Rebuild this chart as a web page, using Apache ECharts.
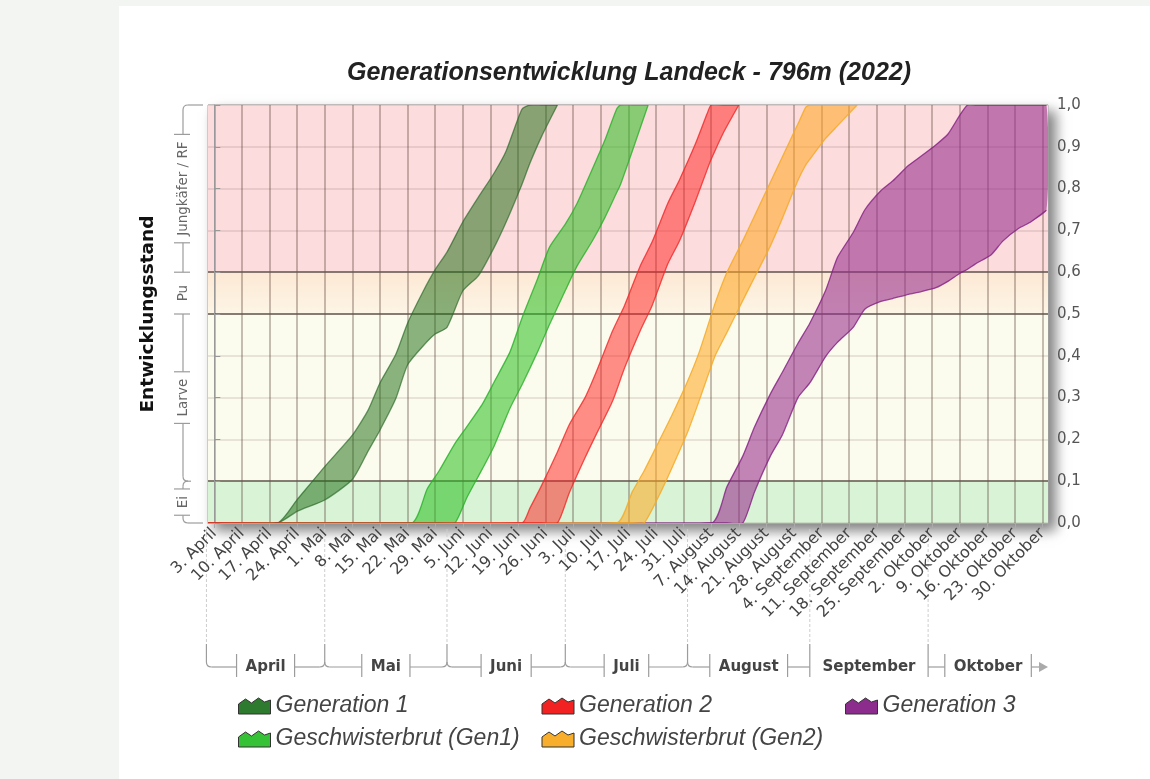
<!DOCTYPE html>
<html>
<head>
<meta charset="utf-8">
<title>Generationsentwicklung Landeck</title>
<script src="https://cdn.jsdelivr.net/npm/echarts@6/dist/echarts.min.js"></script>
<style>
html, body { margin: 0; padding: 0; background: #f3f5f3; }
#chart { position: absolute; left: 119px; top: 6px; width: 1031px; height: 773px; background: #fff; }
</style>
</head>
<body>
<div id="chart"></div>
<script>
// x-Achse: Tage ab 3. April 2022
const weekLabels = [
    '3. April', '10. April', '17. April', '24. April',
    '1. Mai', '8. Mai', '15. Mai', '22. Mai', '29. Mai',
    '5. Juni', '12. Juni', '19. Juni', '26. Juni',
    '3. Juli', '10. Juli', '17. Juli', '24. Juli', '31. Juli',
    '7. August', '14. August', '21. August', '28. August',
    '4. September', '11. September', '18. September', '25. September',
    '2. Oktober', '9. Oktober', '16. Oktober', '23. Oktober', '30. Oktober'
]
const weekDays = weekLabels.map((_, i) => i * 7)
const months = ['April', 'Mai', 'Juni', 'Juli', 'August', 'September', 'Oktober']
const monthStartDays = [-2, 28, 59, 89, 120, 151, 181, 212]

// y-Achse: Entwicklungsstadien
const stageNames = ['Ei', 'Larve', 'Pu', 'Jungkäfer / RF']
const stageBounds = [0, 0.1, 0.5, 0.6, 1.0]

// Generation 1
const gen1Days = [-2, 16, 21, 28, 35, 39, 42, 46, 49, 53, 56, 59, 63, 67, 71, 74, 78, 80, 83, 87]
const gen1Low = [0, 0, 0.028, 0.055, 0.104, 0.172, 0.222, 0.297, 0.378, 0.424, 0.452, 0.468, 0.555, 0.592, 0.66, 0.72, 0.81, 0.86, 0.925, 1]
const gen1High = [0, 0, 0.056, 0.135, 0.21, 0.27, 0.335, 0.403, 0.478, 0.555, 0.606, 0.648, 0.72, 0.78, 0.838, 0.89, 0.99, 1, 1, 1]

// Geschwisterbrut (Gen1)
const gesch1Days = [-2, 50, 54, 57, 61, 64, 68, 71, 75, 78, 82, 85, 89, 92, 96, 99, 102, 103, 106, 110]
const gesch1Low = [0, 0, 0, 0, 0, 0.06, 0.13, 0.185, 0.275, 0.33, 0.41, 0.475, 0.556, 0.615, 0.677, 0.73, 0.79, 0.81, 0.89, 1]
const gesch1High = [0, 0, 0.082, 0.125, 0.19, 0.23, 0.285, 0.338, 0.41, 0.49, 0.585, 0.66, 0.715, 0.765, 0.85, 0.915, 0.99, 1, 1, 1]

// Generation 2
const gen2Days = [-2, 78, 80, 83, 87, 90, 94, 97, 101, 104, 108, 111, 115, 118, 122, 125, 126, 129, 133]
const gen2Low = [0, 0, 0, 0, 0, 0.072, 0.156, 0.215, 0.292, 0.37, 0.46, 0.52, 0.62, 0.676, 0.77, 0.846, 0.87, 0.932, 1]
const gen2High = [0, 0, 0.035, 0.09, 0.17, 0.235, 0.3, 0.365, 0.46, 0.52, 0.615, 0.672, 0.765, 0.822, 0.907, 0.98, 1, 1, 1]

// Geschwisterbrut (Gen2)
const gesch2Days = [-2, 102, 106, 109, 113, 116, 120, 123, 127, 130, 134, 137, 141, 144, 148, 150, 151, 155, 158, 163]
const gesch2Low = [0, 0, 0, 0, 0.07, 0.131, 0.217, 0.294, 0.4, 0.456, 0.532, 0.588, 0.663, 0.728, 0.82, 0.857, 0.87, 0.92, 0.95, 1]
const gesch2High = [0, 0, 0.075, 0.125, 0.2, 0.257, 0.339, 0.41, 0.526, 0.6, 0.675, 0.735, 0.815, 0.875, 0.955, 0.995, 1, 1, 1, 1]

// Generation 3
const gen3Days = [-2, 126, 130, 134, 137, 141, 144, 148, 151, 155, 158, 162, 165, 169, 172, 176, 179, 183, 186, 189, 191, 193, 197, 200, 204, 207, 211]
const gen3Low = [0, 0, 0, 0, 0.075, 0.16, 0.21, 0.3, 0.335, 0.398, 0.432, 0.468, 0.512, 0.53, 0.537, 0.547, 0.553, 0.563, 0.578, 0.597, 0.607, 0.62, 0.642, 0.675, 0.705, 0.72, 0.748]
const gen3High = [0, 0, 0.087, 0.16, 0.23, 0.309, 0.36, 0.43, 0.478, 0.556, 0.635, 0.695, 0.75, 0.795, 0.818, 0.855, 0.876, 0.905, 0.93, 0.975, 1, 1, 1, 1, 1, 1, 1]

const stageColors = [
    '#d8f3d6',
    '#fcfcee',
    { type: 'linear', x: 0, y: 0, x2: 0, y2: 1, colorStops: [{ offset: 0, color: '#fde8d4' }, { offset: 1, color: '#fdf5e6' }] },
    '#fcdcdd'
]

const chart = echarts.init(document.getElementById('chart'))

// Band zwischen frühem und spätem Verlauf als Fläche
function band(name, days, low, high, fill, edge, color) {
    return {
        name: name, type: 'custom', silent: true, z: 3, clip: true,
        itemStyle: { color: color },
        data: [0],
        renderItem: (params, api) => {
            const up = days.map((d, i) => api.coord([d, high[i]]))
            const lo = days.map((d, i) => api.coord([d, low[i]]))
            return {
                type: 'group',
                children: [
                    { type: 'polygon', shape: { points: up.concat(lo.slice().reverse()), smooth: 0.2 }, style: { fill: fill, stroke: null } },
                    { type: 'polyline', shape: { points: up, smooth: 0.2 }, style: { stroke: edge, lineWidth: 1.3, fill: null } },
                    { type: 'polyline', shape: { points: lo, smooth: 0.2 }, style: { stroke: edge, lineWidth: 1.3, fill: null } }
                ]
            }
        }
    }
}

const legendNames = ['Generation 1', 'Generation 2', 'Generation 3', 'Geschwisterbrut (Gen1)', 'Geschwisterbrut (Gen2)']

let option = {
    animation: false,
    title: {
        text: 'Generationsentwicklung Landeck - 796m (2022)',
        left: 505, top: 50, textAlign: 'center',
        textStyle: { fontFamily: 'Liberation Sans', fontSize: 25, fontWeight: 'bold', fontStyle: 'italic', color: '#222' }
    },
    legend: {
        data: legendNames,
        left: 114, top: 683, width: 905,
        itemWidth: 32, itemHeight: 17, itemGap: 9,
        icon: 'path://M0,17 L0,7 L7,2 L13,6 L20,1 L26,5 L32,3 L32,17 Z',
        itemStyle: { borderColor: '#333', borderWidth: 1 },
        textStyle: { fontFamily: 'Liberation Sans', fontSize: 23, fontStyle: 'italic', color: '#444', width: 257, lineHeight: 24 },
        selectedMode: false
    },
    grid: {
        left: 89, top: 99, width: 840, height: 418,
        show: true, backgroundColor: '#fff', borderColor: '#a8a8a8', borderWidth: 1,
        shadowBlur: 12, shadowColor: 'rgba(0,0,0,0.5)', shadowOffsetX: 7, shadowOffsetY: 7,
        containLabel: false, outerBoundsMode: 'none'
    },
    xAxis: {
        type: 'value', min: -1.6, max: 211.4, z: 2,
        axisLine: { show: true, onZero: false, lineStyle: { color: '#a8a8a8' } },
        axisTick: { show: true, customValues: weekDays, length: 5, lineStyle: { color: '#aaa' } },
        axisLabel: {
            customValues: weekDays,
            formatter: v => weekLabels[Math.round(v / 7)],
            rotate: 45, margin: 8,
            fontFamily: 'DejaVu Sans', fontSize: 16, color: '#444'
        },
        splitLine: { show: true, lineStyle: { color: 'rgba(90,65,55,0.45)', width: 1.5 } }
    },
    yAxis: [{
        type: 'value', position: 'right', min: 0, max: 1, interval: 0.1, z: 2,
        axisLine: { show: true, lineStyle: { color: '#999' } },
        axisTick: { show: true, length: 6, lineStyle: { color: '#999' } },
        axisLabel: {
            formatter: v => v.toFixed(1).replace('.', ','),
            fontFamily: 'DejaVu Sans', fontSize: 15, color: '#555', margin: 9
        },
        splitLine: { show: true, lineStyle: { color: 'rgba(120,90,90,0.2)', width: 1.5 } }
    }, {
        type: 'value', position: 'left', min: 0, max: 1,
        axisLine: { show: false }, axisTick: { show: false }, axisLabel: { show: false }, splitLine: { show: false },
        name: 'Entwicklungsstand', nameLocation: 'middle', nameGap: 50, nameRotate: 90,
        nameTextStyle: { fontFamily: 'DejaVu Sans', fontWeight: 'bold', fontSize: 18.5, color: '#111' }
    }],
    series: [
        {
            name: 'Hintergrund', type: 'line', data: [], silent: true, z: 1,
            markArea: {
                silent: true, z: 1,
                data: stageNames.map((n, i) => [{ yAxis: stageBounds[i], itemStyle: { color: stageColors[i] } }, { yAxis: stageBounds[i + 1] }])
            },
            markLine: {
                silent: true, symbol: 'none', z: 2, label: { show: false },
                lineStyle: { color: 'rgba(100,90,80,0.75)', width: 2, type: 'solid' },
                data: stageBounds.slice(1, -1).map(v => ({ yAxis: v }))
            }
        },
        band('Generation 3', gen3Days, gen3Low, gen3High, 'rgba(150,45,140,0.58)', 'rgba(130,30,130,0.8)', '#8c2c8c'),
        band('Geschwisterbrut (Gen2)', gesch2Days, gesch2Low, gesch2High, 'rgba(255,165,30,0.55)', 'rgba(245,170,40,0.85)', '#f8ae2a'),
        band('Geschwisterbrut (Gen1)', gesch1Days, gesch1Low, gesch1High, 'rgba(40,190,30,0.55)', 'rgba(40,175,40,0.8)', '#36c236'),
        band('Generation 1', gen1Days, gen1Low, gen1High, 'rgba(30,110,20,0.52)', 'rgba(35,100,35,0.65)', '#2e7a2e'),
        band('Generation 2', gen2Days, gen2Low, gen2High, 'rgba(255,30,30,0.5)', 'rgba(240,40,40,0.8)', '#f22222')
    ]
}

chart.setOption(option)

// Klammern für Monate (unten) und Stadien (links)
function drawDecor() {
    const px = d => chart.convertToPixel({ xAxisIndex: 0 }, d)
    const py = v => chart.convertToPixel({ yAxisIndex: 0 }, v)
    const ctx = document.createElement('canvas').getContext('2d')
    const stroke = { stroke: '#9c9c9c', lineWidth: 1.2, fill: null }
    const els = []
    const line = (x1, y1, x2, y2, extra) => els.push({ type: 'line', silent: true, shape: { x1, y1, x2, y2 }, style: Object.assign({}, stroke, extra) })
    const curve = (x1, y1, cx, cy, x2, y2) => els.push({ type: 'bezierCurve', silent: true, shape: { x1, y1, cpx1: cx, cpy1: cy, x2, y2 }, style: stroke })
    const r = 5

    const plotBottom = py(0), plotLeft = px(-1.6), plotRight = px(211.4)
    const hy = plotBottom + 144, top = plotBottom + 121
    const monthFont = 'bold 15px "DejaVu Sans"'
    ctx.font = monthFont
    const segs = months.map((m, i) => {
        const x0 = px(monthStartDays[i]), x1 = Math.min(px(monthStartDays[i + 1]), plotRight)
        const cx = (x0 + x1) / 2, w = ctx.measureText(m).width
        let lt = cx - w / 2 - 9, rt = cx + w / 2 + 9
        const sl = i > 0 && lt - x0 < 6
        const sr = i < months.length - 1 && x1 - rt < 6
        if (sl) lt = x0
        if (sr) rt = x1
        return { m, x0, x1, cx, lt, rt, sl, sr }
    })
    segs.forEach((s, i) => { s.straight = i > 0 && (s.sl || segs[i - 1].sr) })
    segs.forEach((s, i) => {
        const b = s.x0
        const last = i === segs.length - 1
        line(b, plotBottom + 6, b, top, { stroke: '#cdcdcd', lineDash: [3, 2], lineWidth: 1 })
        if (i === 0) {
            line(b, top, b, hy - r)
            curve(b, hy - r, b, hy, b + r, hy)
        } else if (s.straight) {
            line(b, top, b, hy + 10)
        } else {
            line(b, top, b, hy - r)
            curve(b - r, hy, b, hy, b, hy - r)
            curve(b, hy - r, b, hy, b + r, hy)
        }
        const start = s.straight ? b : b + r
        if (s.lt > start) line(start, hy, s.lt, hy)
        if (!s.sl) line(s.lt, hy - 13, s.lt, hy + 10)
        const nextStraight = !last && segs[i + 1].straight
        const end = last ? plotRight - 9 : (nextStraight ? s.x1 : s.x1 - r)
        if (!s.sr) line(s.rt, hy - 13, s.rt, hy + 10)
        if (end > s.rt) line(s.rt, hy, end, hy)
        if (last) els.push({ type: 'polygon', silent: true, shape: { points: [[end, hy - 5], [end, hy + 5], [plotRight, hy]] }, style: { fill: '#aaa' } })
        els.push({ type: 'text', silent: true, x: s.cx, y: hy, style: { text: s.m, font: monthFont, fill: '#444', align: 'center', verticalAlign: 'middle' } })
    })

    const bx = plotLeft - 25, endX = plotLeft - 5
    const stageFont = '13.5px "DejaVu Sans"'
    ctx.font = stageFont
    const st = stageNames.map((n, i) => {
        const y0 = py(stageBounds[i]), y1 = py(stageBounds[i + 1])
        const cy = (y0 + y1) / 2, w = ctx.measureText(n).width
        let tb = cy + w / 2 + 7, tt = cy - w / 2 - 7
        const sb = i > 0 && y0 - tb < 6
        const stp = i < stageNames.length - 1 && tt - y1 < 6
        if (sb) tb = y0
        if (stp) tt = y1
        return { n, y0, y1, cy, tb, tt, sb, stp }
    })
    st.forEach((s, i) => { s.straight = i > 0 && (s.sb || st[i - 1].stp) })
    st.forEach((s, i) => {
        const y = s.y0
        const last = i === st.length - 1
        if (i === 0) {
            line(endX, y, bx + r, y)
            curve(bx + r, y, bx, y, bx, y - r)
        } else if (s.straight) {
            line(bx - 9, y, bx + 7, y)
        } else {
            curve(bx, y + r, bx, y, bx + r, y)
            curve(bx + r, y, bx, y, bx, y - r)
            line(bx + r, y, bx + 8, y)
        }
        const start = s.straight ? y : y - r
        if (s.tb < start) line(bx, start, bx, s.tb)
        if (!s.sb) line(bx - 9, s.tb, bx + 7, s.tb)
        const nextStraight = !last && st[i + 1].straight
        const end = last ? s.y1 + r : (nextStraight ? s.y1 : s.y1 + r)
        if (!s.stp) line(bx - 9, s.tt, bx + 7, s.tt)
        if (end < s.tt) line(bx, s.tt, bx, end)
        if (last) {
            curve(bx, s.y1 + r, bx, s.y1, bx + r, s.y1)
            line(bx + r, s.y1, endX, s.y1)
        }
        els.push({ type: 'text', silent: true, x: bx, y: s.cy, rotation: Math.PI / 2, style: { text: s.n, font: stageFont, fill: '#666', align: 'center', verticalAlign: 'middle' } })
    })

    chart.setOption({ graphic: els })
}

drawDecor()
</script>
</body>
</html>
